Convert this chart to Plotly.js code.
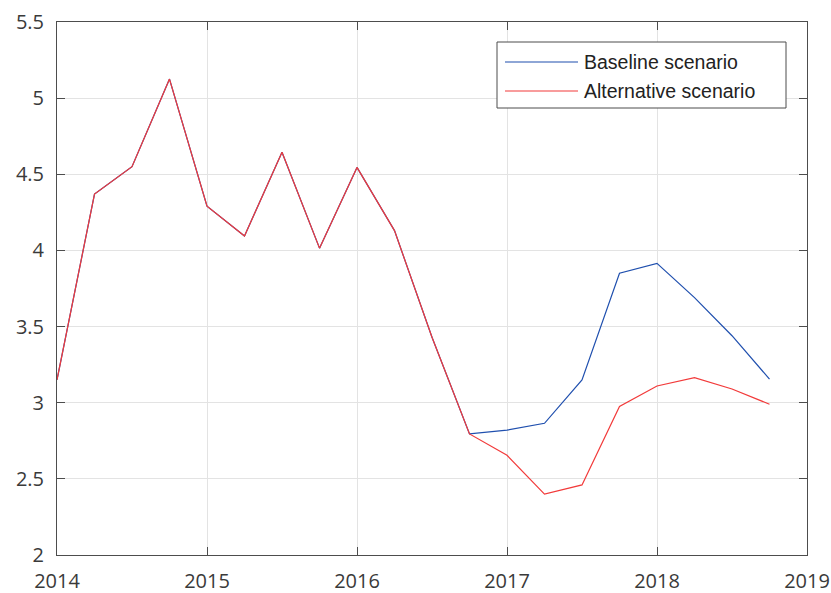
<!DOCTYPE html>
<html>
<head>
<meta charset="utf-8">
<script src="https://cdn.plot.ly/plotly-3.0.1.min.js"></script>
<style>html,body{margin:0;padding:0;background:#fff;}#chart{width:831px;height:593px;}</style>
</head>
<body>
<div id="chart"></div>
<script>
const quarters = [2014.0, 2014.25, 2014.5, 2014.75, 2015.0, 2015.25, 2015.5, 2015.75,
                  2016.0, 2016.25, 2016.5, 2016.75, 2017.0, 2017.25, 2017.5, 2017.75,
                  2018.0, 2018.25, 2018.5, 2018.75];
const baseline = [3.15, 4.37, 4.55, 5.125, 4.29, 4.095, 4.645, 4.015,
                  4.545, 4.13, 3.43, 2.795, 2.82, 2.865, 3.15, 3.85,
                  3.915, 3.69, 3.44, 3.155];
const alternative = [3.15, 4.37, 4.55, 5.125, 4.29, 4.095, 4.645, 4.015,
                     4.545, 4.13, 3.43, 2.795, 2.655, 2.40, 2.46, 2.975,
                     3.11, 3.165, 3.09, 2.99];
const seriesNames = ['Baseline scenario', 'Alternative scenario'];
const seriesColors = ['#1f4fae', '#f23a3a'];
const xTicks = [2014, 2015, 2016, 2017, 2018, 2019];
const yTicks = [2, 2.5, 3, 3.5, 4, 4.5, 5, 5.5];

const traces = [
  {x: quarters, y: baseline, name: seriesNames[0], mode: 'lines', type: 'scatter',
   line: {color: seriesColors[0], width: 1.2}, showlegend: false},
  {x: quarters, y: alternative, name: seriesNames[1], mode: 'lines', type: 'scatter',
   line: {color: seriesColors[1], width: 1.2}, showlegend: false}
];

const axisCommon = {
  showline: true, linecolor: '#4d4d4d', linewidth: 1, mirror: 'allticks',
  ticks: 'inside', ticklen: 8, tickcolor: '#4d4d4d', tickwidth: 1,
  showgrid: true, gridcolor: '#e3e3e3', gridwidth: 1, zeroline: false,
  ticklabeloverflow: 'allow',
  tickfont: {family: 'Open Sans, sans-serif', size: 20, color: '#3a3a3a'}
};

// Legend box in paper coordinates
const lx0 = (497 - 57) / 750, lx1 = (786 - 57) / 750;
const ly1 = 1 - (42 - 22) / 533, ly0 = 1 - (108 - 22) / 533;
const lineX0 = (505 - 57) / 750, lineX1 = (578 - 57) / 750, textX = (582 - 57) / 750;
const rowY = [1 - (62 - 22) / 533, 1 - (91 - 22) / 533];

const shapes = [
  {type: 'rect', xref: 'paper', yref: 'paper', x0: lx0, x1: lx1, y0: ly0, y1: ly1,
   line: {color: '#4d4d4d', width: 1}, fillcolor: '#ffffff', layer: 'above'}
];
const annotations = [];
seriesNames.forEach((n, i) => {
  shapes.push({type: 'line', xref: 'paper', yref: 'paper', x0: lineX0, x1: lineX1,
               y0: rowY[i], y1: rowY[i], line: {color: seriesColors[i], width: 1.2}, layer: 'above'});
  annotations.push({xref: 'paper', yref: 'paper', x: textX, y: rowY[i], text: n,
                    showarrow: false, xanchor: 'left', yanchor: 'middle',
                    font: {family: 'Liberation Sans, Arial, sans-serif', size: 19.5, color: '#222'}});
});

const layout = {
  width: 831, height: 593,
  margin: {l: 57, r: 24, t: 22, b: 38},
  paper_bgcolor: '#ffffff', plot_bgcolor: '#ffffff',
  showlegend: false,
  xaxis: Object.assign({}, axisCommon, {range: [2014, 2019], tickvals: xTicks,
           ticktext: xTicks.map(String), ticklabelstandoff: 8}),
  yaxis: Object.assign({}, axisCommon, {range: [2, 5.5], tickvals: yTicks,
           ticktext: yTicks.map(String), ticklabelstandoff: 8}),
  shapes: shapes,
  annotations: annotations
};

Plotly.newPlot('chart', traces, layout, {displayModeBar: false, staticPlot: true});
</script>
</body>
</html>
